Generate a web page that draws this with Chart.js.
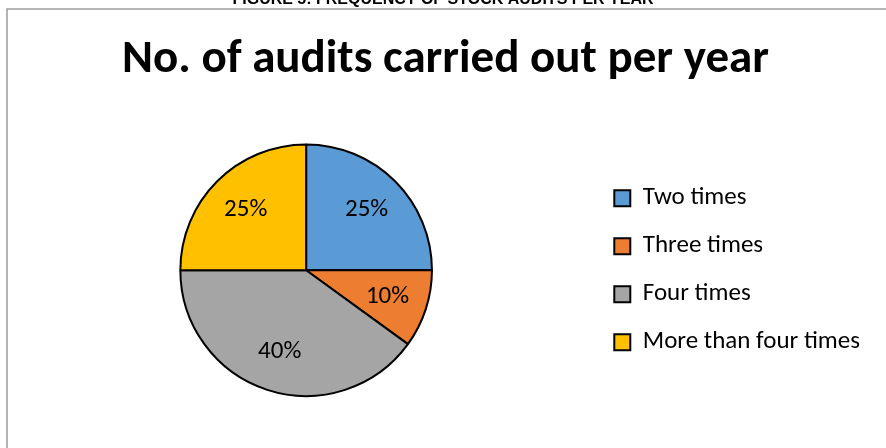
<!DOCTYPE html>
<html>
<head>
<meta charset="utf-8">
<script src="https://cdn.jsdelivr.net/npm/chart.js@4.4.0/dist/chart.umd.min.js"></script>
<style>
  body { margin: 0; background: #fff; }
  #wrap { width: 886px; height: 448px; }
</style>
</head>
<body>
<div id="wrap"><canvas id="auditChart" width="886" height="448"></canvas></div>
<script>
const categories = ["Two times", "Three times", "Four times", "More than four times"];
const shares = [25, 10, 40, 25];
const sliceColors = ["#5B9BD5", "#ED7D31", "#A5A5A5", "#FFC000"];
const chartTitle = "No. of audits carried out per year";
const figureCaption = "FIGURE 5: FREQUENCY OF STOCK AUDITS PER YEAR";

const bodyFont = "Carlito, Lato, sans-serif";

// white page, grey frame and the cut-off caption above it
const framePlugin = {
  id: "frame",
  beforeDraw(chart) {
    const ctx = chart.ctx;
    ctx.save();
    ctx.fillStyle = "#fff";
    ctx.fillRect(0, 0, chart.width, chart.height);
    ctx.strokeStyle = "#9c9c9c";
    ctx.lineWidth = 1.5;
    ctx.strokeRect(7, 9, chart.width + 20, chart.height + 20);
    ctx.fillStyle = "#000";
    ctx.font = "bold 16px 'Liberation Sans Narrow', 'Liberation Sans', sans-serif";
    ctx.textAlign = "center";
    ctx.textBaseline = "alphabetic";
    ctx.fillText(figureCaption, 443, 4);
    ctx.restore();
  }
};

// percentage labels inside the slices
const sliceLabels = {
  id: "sliceLabels",
  afterDatasetsDraw(chart) {
    const ctx = chart.ctx;
    const meta = chart.getDatasetMeta(0);
    const total = shares.reduce((a, b) => a + b, 0);
    ctx.save();
    ctx.font = "25px " + bodyFont;
    ctx.fillStyle = "#000";
    ctx.textAlign = "center";
    ctx.textBaseline = "middle";
    meta.data.forEach((arc, i) => {
      const p = arc.getProps(["x", "y", "startAngle", "endAngle", "outerRadius"], true);
      const mid = (p.startAngle + p.endAngle) / 2;
      const r = p.outerRadius * 0.68;
      const pct = Math.round(shares[i] / total * 100) + "%";
      ctx.fillText(pct, p.x + Math.cos(mid) * r, p.y + Math.sin(mid) * r);
    });
    ctx.restore();
  }
};

new Chart(document.getElementById("auditChart"), {
  type: "pie",
  data: {
    labels: categories,
    datasets: [{
      data: shares,
      backgroundColor: sliceColors,
      borderColor: "#000",
      borderWidth: 2
    }]
  },
  options: {
    responsive: false,
    animation: false,
    layout: { padding: { top: 0, left: 21, right: 16, bottom: 51 } },
    plugins: {
      title: {
        display: true,
        text: chartTitle,
        color: "#000",
        font: { family: bodyFont, size: 47, weight: "bold" },
        padding: { top: 32, bottom: 55 }
      },
      legend: {
        position: "right",
        fullSize: false,
        labels: {
          color: "#000",
          boxWidth: 16,
          boxHeight: 16,
          padding: 23,
          font: { family: bodyFont, size: 25 }
        }
      },
      tooltip: { enabled: false }
    }
  },
  plugins: [framePlugin, sliceLabels]
});
</script>
</body>
</html>
